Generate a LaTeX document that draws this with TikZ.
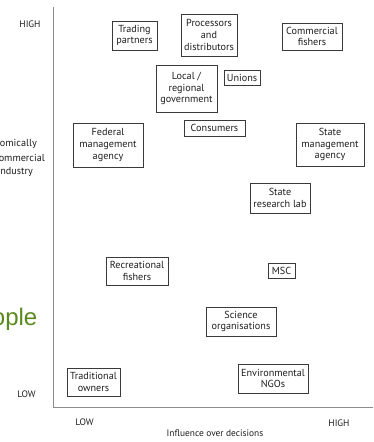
\documentclass[tikz,border=0pt]{standalone}
\usepackage{fontspec}
\setmainfont{PT Sans}
\newfontfamily\titlefont{Liberation Sans}
\definecolor{axisgray}{HTML}{8C8C8C}
\definecolor{boxline}{HTML}{3A3A3A}
\definecolor{inktext}{HTML}{1E1E1E}
\definecolor{leafgreen}{HTML}{5A8A1E}
\begin{document}
\begin{tikzpicture}[x=1pt,y=-1pt,
  actor/.style={draw=boxline, line width=0.8pt, align=center, inner sep=0pt,
    font=\fontsize{10.2}{11.8}\selectfont, text=inktext},
  axislabel/.style={font=\fontsize{9.4}{10}\selectfont, text=inktext, inner sep=0pt},
  sidelabel/.style={font=\fontsize{10.2}{12}\selectfont, text=inktext, inner sep=0pt, anchor=base east}]
\useasboundingbox (0,0) rectangle (373,442);
\clip (0,0) rectangle (373,442);
\fill[white] (0,0) rectangle (373,442);

% axes
\coordinate (ytop) at (53,7);
\coordinate (origin) at (53,407);
\coordinate (xend) at (373,407);
\draw[axisgray, line width=1pt] (ytop) -- (origin) -- (xend);

% axis labels
\node[axislabel] (yhigh) at (30,24) {HIGH};
\node[axislabel] (ylow) at (26.5,394) {LOW};
\node[axislabel] (xlow) at (84.5,422) {LOW};
\node[axislabel] (xhigh) at (339,423) {HIGH};
\node[axislabel] (xtitle) at (215,433) {Influence over decisions};

% vertical axis title
\node[sidelabel] (ya) at (37,146.5) {Economically};
\node[sidelabel] (yb) at (45,161) {commercial};
\node[sidelabel] (yc) at (33,174.5) {industry};
\node[anchor=base east, inner sep=0pt, text=leafgreen,
  font=\titlefont\fontsize{24}{27}\selectfont] (people) at (37.5,325) {people};

% stakeholders
\node[actor, minimum width=45pt, minimum height=29pt] (trading) at (134.5,35.5) {Trading\\partners};
\node[actor, minimum width=56pt, minimum height=42pt] (processors) at (209,35) {Processors\\and\\distributors};
\node[actor, minimum width=60pt, minimum height=27pt] (commercial) at (312,36.5) {Commercial\\fishers};
\node[actor, minimum width=61pt, minimum height=47pt] (local) at (186.5,88.5) {Local /\\regional\\government};
\node[actor, minimum width=36pt, minimum height=15pt] (unions) at (242,77.5) {Unions};
\node[actor, minimum width=61pt, minimum height=16pt] (consumers) at (214.5,128) {Consumers};
\node[actor, minimum width=70pt, minimum height=44pt] (federal) at (108,145) {Federal\\management\\agency};
\node[actor, minimum width=68pt, minimum height=43pt] (statemgmt) at (330,144.5) {State\\management\\agency};
\node[actor, minimum width=60pt, minimum height=30pt] (statelab) at (280,198) {State\\research lab};
\node[actor, minimum width=62pt, minimum height=28pt] (recreational) at (137,271) {Recreational\\fishers};
\node[actor, minimum width=27pt, minimum height=15pt] (msc) at (281.5,270.5) {MSC};
\node[actor, minimum width=70pt, minimum height=29pt] (science) at (241,321.5) {Science\\organisations};
\node[actor, minimum width=53pt, minimum height=28pt] (traditional) at (93.5,382) {Traditional\\owners};
\node[actor, minimum width=70pt, minimum height=29pt] (ngos) at (273,378.5) {Environmental\\NGOs};
\end{tikzpicture}
\end{document}
